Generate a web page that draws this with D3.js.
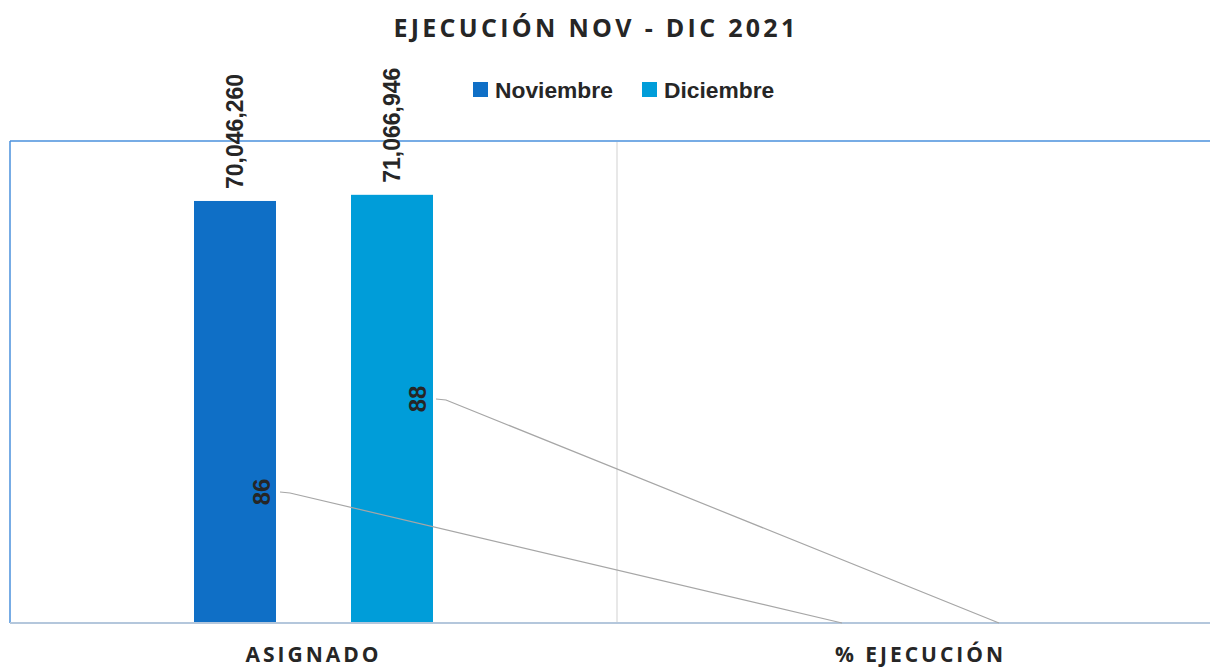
<!DOCTYPE html>
<html>
<head>
<meta charset="utf-8">
<script src="https://cdn.jsdelivr.net/npm/d3@7"></script>
<style>
  html, body { margin: 0; padding: 0; background: #fff; }
  svg { display: block; }
</style>
</head>
<body>
<svg id="chart" width="1210" height="667"></svg>
<script>
// Chart data
const categories = ["ASIGNADO", "% EJECUCIÓN"];
const seriesNames = ["Noviembre", "Diciembre"];
const noviembre = [70046260, 86];
const diciembre = [71066946, 88];
const valueLabels = [["70,046,260", "86"], ["71,066,946", "88"]];
const seriesColors = ["#0f6fc6", "#009dd9"];

// Layout
const W = 1210, H = 667;
const plot = { left: 10, top: 141, bottom: 623, right: 1224 };
// Placement of the moved percentage labels (centre of label), per series
const movedLabelPos = [{ x: 262, y: 492 }, { x: 418, y: 399 }];

const svg = d3.select("#chart");

const x0 = d3.scaleBand().domain(categories).range([plot.left, plot.right]).padding(0);
const x1 = d3.scaleBand().domain(seriesNames).range([0, x0.bandwidth()])
  .paddingInner(75 / 157).paddingOuter(1.172);
const y = d3.scaleLinear().domain([0, 80000000]).range([plot.bottom, plot.top]);

const series = seriesNames.map((name, i) => ({
  name, color: seriesColors[i], values: [noviembre, diciembre][i], labels: valueLabels[i]
}));

// Plot area frame: left and top borders
svg.append("line").attr("x1", plot.left).attr("x2", plot.left)
  .attr("y1", plot.top).attr("y2", plot.bottom)
  .attr("stroke", "#4a90dc").attr("stroke-width", 1.5);
svg.append("line").attr("x1", plot.left).attr("x2", W)
  .attr("y1", plot.top).attr("y2", plot.top)
  .attr("stroke", "#4a90dc").attr("stroke-width", 1.5);

// Category divider
svg.append("line")
  .attr("x1", x0(categories[1])).attr("x2", x0(categories[1]))
  .attr("y1", plot.top + 1).attr("y2", plot.bottom)
  .attr("stroke", "#d9d9d9").attr("stroke-width", 1.2);

// Bars
const groups = svg.append("g").selectAll("g").data(series).join("g");
groups.selectAll("rect")
  .data(s => categories.map((c, j) => ({ c, v: s.values[j], color: s.color, name: s.name })))
  .join("rect")
  .attr("x", d => x0(d.c) + x1(d.name))
  .attr("width", x1.bandwidth())
  .attr("y", d => y(d.v))
  .attr("height", d => y(0) - y(d.v))
  .attr("fill", d => d.color);

// Category axis
const xAxis = svg.append("g").attr("transform", `translate(0,${plot.bottom})`)
  .call(d3.axisBottom(x0).tickSize(0).tickPadding(24));
xAxis.select(".domain").attr("stroke", "#b4c7dc").attr("stroke-width", 2)
  .attr("d", `M${plot.left},0H${W}`);
xAxis.selectAll("text")
  .attr("font-family", "'Open Sans', sans-serif")
  .attr("font-weight", "bold").attr("font-size", 21)
  .attr("letter-spacing", "3px")
  .attr("fill", "#262626");

// Value labels for the first category (above bars, rotated)
series.forEach(s => {
  const cx = x0(categories[0]) + x1(s.name) + x1.bandwidth() / 2;
  const top = y(s.values[0]);
  svg.append("text")
    .attr("transform", `translate(${cx},${top - 12}) rotate(-90)`)
    .attr("dy", "0.35em")
    .attr("text-anchor", "start")
    .attr("font-family", "'Liberation Sans', Arial, sans-serif")
    .attr("font-weight", "bold").attr("font-size", 23)
    .attr("fill", "#262626")
    .text(s.labels[0]);
});

// Percentage labels, moved off their bars, with leader lines
series.forEach((s, i) => {
  const pos = movedLabelPos[i];
  const bx = x0(categories[1]) + x1(s.name) + x1.bandwidth() / 2;
  const by = y(s.values[1]);
  svg.append("path")
    .attr("d", `M${pos.x + 18},${pos.y}L${pos.x + 28},${pos.y + 1}L${bx},${by}`)
    .attr("fill", "none").attr("stroke", "#a6a6a6").attr("stroke-width", 1.2);
  svg.append("text")
    .attr("transform", `translate(${pos.x},${pos.y}) rotate(-90)`)
    .attr("dy", "0.35em")
    .attr("text-anchor", "middle")
    .attr("font-family", "'Liberation Sans', Arial, sans-serif")
    .attr("font-weight", "bold").attr("font-size", 24)
    .attr("fill", "#262626")
    .text(s.labels[1]);
});

// Title
svg.append("text")
  .attr("x", 596).attr("y", 37)
  .attr("text-anchor", "middle")
  .attr("font-family", "'Open Sans', sans-serif")
  .attr("font-weight", "bold").attr("font-size", 25)
  .attr("letter-spacing", "3.3px")
  .attr("fill", "#262626")
  .text("EJECUCIÓN NOV - DIC 2021");

// Legend
const legendX = [473, 642];
const legend = svg.append("g").selectAll("g").data(series).join("g")
  .attr("transform", (d, i) => `translate(${legendX[i]},0)`);
legend.append("rect").attr("x", 0).attr("y", 82).attr("width", 15).attr("height", 15)
  .attr("fill", d => d.color);
legend.append("text").attr("x", 22).attr("y", 98)
  .attr("font-family", "'Liberation Sans', Arial, sans-serif")
  .attr("font-weight", "bold").attr("font-size", 22.8)
  .attr("fill", "#262626")
  .text(d => d.name);
</script>
</body>
</html>
